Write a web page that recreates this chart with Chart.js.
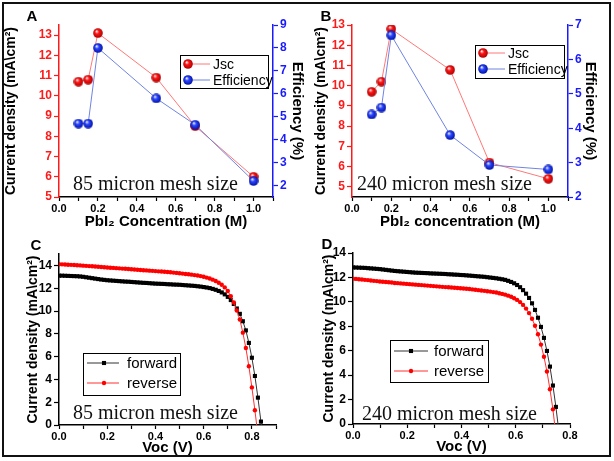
<!DOCTYPE html>
<html>
<head>
<meta charset="utf-8">
<script src="https://cdn.jsdelivr.net/npm/chart.js@4.4.1/dist/chart.umd.min.js"></script>
<style>
  html, body { margin: 0; padding: 0; background: #fff; }
  #wrap { position: relative; width: 614px; height: 461px; overflow: hidden; }
  #wrap canvas { position: absolute; left: 0; top: 0; }
  .frame { position: absolute; left: 2px; top: 2px; width: 609px; height: 455px; border: 2px solid #111; box-sizing: border-box; }
  .lbl { position: absolute; font: bold 15px 'Liberation Sans', Arial, sans-serif; color: #000; transform: translate(-50%, -50%); }
  .mesh { position: absolute; font: 20px 'Liberation Serif', 'Times New Roman', serif; color: #111; transform: translateY(-50%); white-space: nowrap; }
</style>
</head>
<body>
<div id="wrap">
  <div class="frame"></div>
  <canvas id="cA" width="614" height="461"></canvas>
  <canvas id="cB" width="614" height="461"></canvas>
  <canvas id="cC" width="614" height="461"></canvas>
  <canvas id="cD" width="614" height="461"></canvas>
  <div class="lbl" style="left:32px;top:15px">A</div>
  <div class="lbl" style="left:326px;top:15px">B</div>
  <div class="lbl" style="left:36px;top:244px">C</div>
  <div class="lbl" style="left:327px;top:243px">D</div>
  <div class="mesh" style="left:73px;top:183px">85 micron mesh size</div>
  <div class="mesh" style="left:357px;top:183px">240 micron mesh size</div>
  <div class="mesh" style="left:73px;top:412px">85 micron mesh size</div>
  <div class="mesh" style="left:362px;top:413px">240 micron mesh size</div>
</div>
<script>
// PbI2 concentration (M)
const conc = [0.1, 0.15, 0.2, 0.5, 0.7, 1.0];
// panel A: 85 micron mesh
const jscA = [10.7, 10.8, 13.1, 10.9, 8.5, 6.0];
const effA = [4.7, 4.7, 8.0, 5.8, 4.65, 2.2];
// panel B: 240 micron mesh
const jscB = [9.7, 10.2, 12.8, 10.78, 6.2, 5.4];
const effB = [4.4, 4.6, 6.7, 3.8, 2.93, 2.8];

// panel C: J-V curves, 85 micron mesh
const vocC = [0, 0.0125, 0.025, 0.0375, 0.05, 0.0625, 0.075, 0.0875, 0.1, 0.1125,
  0.125, 0.1375, 0.15, 0.1625, 0.175, 0.1875, 0.2, 0.2125, 0.225, 0.2375,
  0.25, 0.2625, 0.275, 0.2875, 0.3, 0.3125, 0.325, 0.3375, 0.35, 0.3625,
  0.375, 0.3875, 0.4, 0.4125, 0.425, 0.4375, 0.45, 0.4625, 0.475, 0.4875,
  0.5, 0.5125, 0.525, 0.5375, 0.55, 0.5625, 0.575, 0.5875, 0.6, 0.6125,
  0.625, 0.6375, 0.65, 0.6625, 0.675, 0.6875, 0.7, 0.7125, 0.725, 0.7375,
  0.75, 0.7625, 0.775, 0.7875, 0.8, 0.8125, 0.825, 0.8375, 0.85];
const fwdC = [13.10, 13.10, 13.09, 13.08, 13.07, 13.06, 13.05, 13.03, 13.00, 12.96,
  12.92, 12.88, 12.84, 12.80, 12.76, 12.73, 12.70, 12.68, 12.66, 12.64,
  12.62, 12.60, 12.58, 12.57, 12.55, 12.53, 12.51, 12.49, 12.47, 12.46,
  12.44, 12.42, 12.40, 12.39, 12.38, 12.37, 12.35, 12.34, 12.32, 12.31,
  12.30, 12.28, 12.26, 12.24, 12.22, 12.20, 12.17, 12.14, 12.10, 12.06,
  12.01, 11.94, 11.86, 11.76, 11.63, 11.46, 11.24, 10.96, 10.62, 10.22,
  9.75, 9.10, 8.30, 7.20, 5.90, 4.30, 2.40, 0.30, -1.80];
const revC = [14.10, 14.09, 14.08, 14.06, 14.05, 14.03, 14.01, 14.00, 13.98, 13.96,
  13.94, 13.92, 13.90, 13.88, 13.86, 13.84, 13.82, 13.80, 13.78, 13.76,
  13.74, 13.72, 13.70, 13.68, 13.66, 13.64, 13.62, 13.60, 13.58, 13.56,
  13.54, 13.52, 13.50, 13.48, 13.46, 13.44, 13.42, 13.40, 13.37, 13.34,
  13.31, 13.28, 13.25, 13.22, 13.19, 13.15, 13.11, 13.06, 13.00, 12.93,
  12.85, 12.75, 12.63, 12.48, 12.30, 12.07, 11.75, 11.30, 10.75, 10.05,
  9.25, 8.10, 6.75, 5.15, 3.30, 1.30, -0.90];

// panel D: J-V curves, 240 micron mesh
const vocD = [0, 0.011, 0.022, 0.033, 0.044, 0.055, 0.066, 0.077, 0.088, 0.099,
  0.11, 0.121, 0.132, 0.143, 0.154, 0.165, 0.176, 0.187, 0.198, 0.209,
  0.22, 0.231, 0.242, 0.253, 0.264, 0.275, 0.286, 0.297, 0.308, 0.319,
  0.33, 0.341, 0.352, 0.363, 0.374, 0.385, 0.396, 0.407, 0.418, 0.429,
  0.44, 0.451, 0.462, 0.473, 0.484, 0.495, 0.506, 0.517, 0.528, 0.539,
  0.55, 0.561, 0.572, 0.583, 0.594, 0.605, 0.616, 0.627, 0.638, 0.649,
  0.66, 0.671, 0.682, 0.693, 0.704, 0.715, 0.726, 0.737, 0.748, 0.759];
const fwdD = [12.82, 12.81, 12.80, 12.79, 12.78, 12.76, 12.74, 12.72, 12.70, 12.68,
  12.65, 12.62, 12.59, 12.56, 12.53, 12.51, 12.49, 12.47, 12.45, 12.43,
  12.41, 12.39, 12.38, 12.37, 12.36, 12.35, 12.33, 12.32, 12.31, 12.30,
  12.29, 12.28, 12.26, 12.25, 12.23, 12.22, 12.20, 12.19, 12.17, 12.15,
  12.13, 12.11, 12.09, 12.07, 12.05, 12.02, 11.99, 11.96, 11.93, 11.89,
  11.85, 11.80, 11.72, 11.63, 11.52, 11.38, 11.20, 10.96, 10.67, 10.32,
  9.88, 9.34, 8.70, 7.95, 7.05, 5.98, 4.70, 3.15, 1.40, -0.60];
const revD = [11.90, 11.88, 11.85, 11.83, 11.80, 11.78, 11.75, 11.72, 11.70, 11.67,
  11.65, 11.62, 11.60, 11.58, 11.55, 11.53, 11.51, 11.49, 11.47, 11.45,
  11.43, 11.41, 11.39, 11.37, 11.35, 11.33, 11.31, 11.29, 11.27, 11.25,
  11.23, 11.21, 11.19, 11.17, 11.15, 11.13, 11.11, 11.09, 11.07, 11.05,
  11.02, 10.99, 10.96, 10.93, 10.90, 10.87, 10.84, 10.80, 10.76, 10.71,
  10.65, 10.59, 10.51, 10.42, 10.30, 10.16, 9.98, 9.75, 9.45, 9.08,
  8.62, 8.05, 7.35, 6.50, 5.50, 4.30, 2.85, 1.20, -0.90];

const SANS = "'Liberation Sans', Arial, sans-serif";
const RED = '#ff1a1a';
const BLUE = '#1a1aff';

const pts = (xs, ys) => ys.map((y, i) => ({ x: xs[i], y }));
const evenLabel = v => (Math.round(v * 10) % 2 === 0 ? v.toFixed(1) : '');
const evenInt = v => (Math.round(v) % 2 === 0 ? String(Math.round(v)) : '');

// shaded ball markers for the top panels
function ball(hi, mid, edge) {
  const cv = document.createElement('canvas');
  cv.width = cv.height = 10;
  const g = cv.getContext('2d');
  const grad = g.createRadialGradient(3.6, 3.2, 0.4, 5, 5, 5);
  grad.addColorStop(0, hi);
  grad.addColorStop(0.35, mid);
  grad.addColorStop(1, edge);
  g.fillStyle = grad;
  g.beginPath();
  g.arc(5, 5, 4.8, 0, Math.PI * 2);
  g.fill();
  return cv;
}
const redBall = ball('#ffe0e0', '#ff1515', '#a80000');
const blueBall = ball('#e0e6ff', '#2a45ff', '#0010a0');

// boxed legend drawn inside the plot
const insetLegend = {
  id: 'insetLegend',
  afterDatasetsDraw(chart, args, o) {
    const ctx = chart.ctx;
    ctx.save();
    ctx.strokeStyle = '#000';
    ctx.lineWidth = 1;
    ctx.strokeRect(o.x + 0.5, o.y + 0.5, o.w, o.h);
    ctx.font = o.font;
    ctx.textBaseline = 'middle';
    ctx.textAlign = 'left';
    chart.data.datasets.forEach((ds, i) => {
      const y = o.y + o.rows[i];
      ctx.strokeStyle = ds.borderColor;
      ctx.lineWidth = 1;
      ctx.beginPath();
      ctx.moveTo(o.x + o.line[0], y);
      ctx.lineTo(o.x + o.line[1], y);
      ctx.stroke();
      const mx = o.x + o.mark;
      const st = ds.pointStyle;
      ctx.fillStyle = ds.pointBackgroundColor || ds.borderColor;
      if (st instanceof HTMLCanvasElement) {
        ctx.drawImage(st, mx - st.width / 2, y - st.height / 2);
      } else if (st === 'rect') {
        const s = ds.pointRadius * Math.SQRT1_2;
        ctx.fillRect(mx - s, y - s, 2 * s, 2 * s);
      } else {
        ctx.beginPath();
        ctx.arc(mx, y, ds.pointRadius, 0, Math.PI * 2);
        ctx.fill();
      }
      ctx.fillStyle = '#000';
      ctx.fillText(ds.label, o.x + o.text, y + 1);
    });
    ctx.restore();
  }
};

function xAxis(min, max, title, height) {
  return {
    type: 'linear', min, max,
    afterFit: s => { s.height = height; },
    ticks: { stepSize: 0.1, autoSkip: false, maxRotation: 0, color: '#000', padding: 1,
      font: { family: SANS, size: 11, weight: 'bold' }, callback: evenLabel },
    grid: { drawOnChartArea: false, tickLength: 4, tickColor: '#000', tickWidth: 1.2 },
    border: { color: '#000', width: 1.5 },
    title: { display: true, text: title, color: '#000', padding: { top: 0, bottom: 0 },
      font: { family: SANS, size: 15, weight: 'bold' } }
  };
}

function yAxis(pos, min, max, color, title, width, tpad, cb) {
  return {
    type: 'linear', position: pos, min, max,
    afterFit: s => { s.width = width; },
    ticks: { stepSize: 1, includeBounds: false, color, padding: 2,
      font: { family: SANS, size: 12, weight: 'bold' }, callback: cb },
    grid: { drawOnChartArea: false, tickLength: 5, tickColor: color, tickWidth: 1.2 },
    border: { color, width: 1.5 },
    title: { display: true, text: title, color: '#000', padding: { top: tpad, bottom: 0 },
      font: { family: SANS, size: pos === 'left' ? 14 : 15, weight: 'bold' } }
  };
}

const base = {
  responsive: false,
  animation: false,
  events: [],
  devicePixelRatio: 1,
  plugins: { legend: { display: false }, tooltip: { enabled: false } }
};

function concChart(id, jsc, eff, yl, yr, xTitle, pad, yW, yrW, tl, tr, leg) {
  new Chart(document.getElementById(id), {
    type: 'line',
    data: { datasets: [
      { label: 'Jsc', data: pts(conc, jsc), yAxisID: 'y', borderColor: '#ff7878', borderWidth: 1,
        pointStyle: redBall, pointRadius: 5, order: 2 },
      { label: 'Efficiency', data: pts(conc, eff), yAxisID: 'y2', borderColor: '#6f84e0', borderWidth: 1,
        pointStyle: blueBall, pointRadius: 5, order: 1 }
    ] },
    options: Object.assign({}, base, {
      layout: { padding: pad },
      scales: {
        x: xAxis(0, 1.1, xTitle, 34),
        y: yAxis('left', yl[0], yl[1], RED, 'Current density (mA\\cm²)', yW, tl),
        y2: yAxis('right', yr[0], yr[1], BLUE, 'Efficiency (%)', yrW, tr)
      },
      plugins: Object.assign({}, base.plugins, { insetLegend: leg })
    }),
    plugins: [insetLegend]
  });
}

function jvChart(id, voc, fwd, rev, xmax, ymax, pad, yW, tl, leg) {
  new Chart(document.getElementById(id), {
    type: 'line',
    data: { datasets: [
      { label: 'forward', data: pts(voc, fwd), borderColor: '#333', borderWidth: 1,
        pointStyle: 'rect', pointRadius: 2.9, pointBackgroundColor: '#000', pointBorderWidth: 0, order: 2 },
      { label: 'reverse', data: pts(voc, rev), borderColor: '#ff3030', borderWidth: 1,
        pointStyle: 'circle', pointRadius: 2.2, pointBackgroundColor: '#ff0000', pointBorderWidth: 0, order: 1 }
    ] },
    options: Object.assign({}, base, {
      layout: { padding: pad },
      scales: {
        x: xAxis(0, xmax, 'Voc (V)', 32),
        y: yAxis('left', 0, ymax, '#000', 'Current density (mA\\cm²)', yW, tl, evenInt)
      },
      plugins: Object.assign({}, base.plugins, { insetLegend: leg })
    }),
    plugins: [insetLegend]
  });
}

concChart('cA', jscA, effA, [5, 13.5], [1.5, 9], 'PbI₂ Concentration (M)',
  { left: 0, top: 25, right: 305, bottom: 230 }, 59, 36, 3, 3,
  { x: 180, y: 55, w: 88, h: 33, rows: [9, 25], line: [4, 30], mark: 8, text: 33, font: '14px ' + SANS });

concChart('cB', jscB, effB, [4.5, 13], [2, 7], 'PbI₂ concentration (M)',
  { left: 305, top: 25, right: 6, bottom: 230 }, 47, 40, 8, 9,
  { x: 475, y: 45, w: 89, h: 33, rows: [8, 24], line: [4, 30], mark: 8, text: 33, font: '14px ' + SANS });

jvChart('cC', vocC, fwdC, revC, 0.9, 15,
  { left: 20, top: 254, right: 338, bottom: 4 }, 39, 5,
  { x: 83, y: 353, w: 97, h: 42, rows: [10, 30], line: [4, 36], mark: 21, text: 44, font: '15px ' + SANS });

jvChart('cD', vocD, fwdD, revD, 0.8, 14,
  { left: 318, top: 253, right: 44, bottom: 5 }, 35, 3,
  { x: 390, y: 340, w: 98, h: 42, rows: [11, 31], line: [4, 38], mark: 21, text: 44, font: '15px ' + SANS });
</script>
</body>
</html>
